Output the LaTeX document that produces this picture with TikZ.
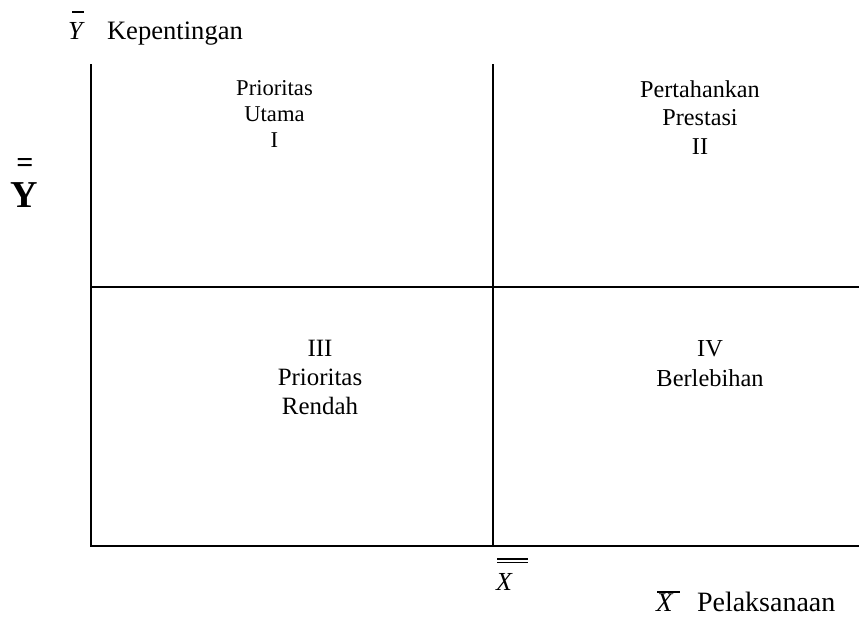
\documentclass[tikz,border=0pt]{standalone}
\usepackage{fontspec}
\setmainfont{Liberation Serif}
\newcommand{\qtext}[3]{\fontsize{#1}{#2}\selectfont\begin{tabular}[t]{@{}c@{}}#3\end{tabular}}
\tikzset{
  axisline/.style={line width=1.7pt, black},
  barline/.style={line width=1.1pt, black},
  lbl/.style={inner sep=0pt, outer sep=0pt, anchor=base},
  lblw/.style={inner sep=0pt, outer sep=0pt, anchor=base west},
}
\begin{document}
\begin{tikzpicture}[x=1pt,y=-1pt]
\useasboundingbox (0,0) rectangle (859,624);
% axes and grid
\coordinate (tl) at (91,64);
\coordinate (tm) at (493,64);
\coordinate (bl) at (91,546);
\coordinate (bm) at (493,546);
\coordinate (br) at (859,546);
\coordinate (ml) at (91,287);
\coordinate (mr) at (859,287);
\draw[axisline] (tl) -- (bl) -- (br);
\draw[axisline] (tm) -- (bm);
\draw[axisline] (ml) -- (mr);
% top-left label
\node[lblw, font=\fontsize{26}{30}\selectfont\itshape] (ybar) at (68,39) {Y};
\node[lblw, font=\fontsize{26.6}{30}\selectfont] (kep) at (107,39) {Kepentingan};
\draw[barline] (72,12) -- (84,12);
% left double-bar Y
\node[lbl, font=\fontsize{38}{40}\selectfont\bfseries] (ybb) at (24,207) {Y};
\node[lbl, font=\fontsize{30}{32}\selectfont\bfseries] (eq) at (25,172) {=};
% bottom double-bar X
\node[lblw, font=\fontsize{26}{30}\selectfont\itshape] (xbb) at (496,590) {X};
\draw[barline] (497,559) -- (528,559);
\draw[barline] (497,562.5) -- (528,562.5);
% bottom-right label
\node[lblw, font=\fontsize{27}{30}\selectfont\itshape] (xbar) at (656,611) {X};
\node[lblw, font=\fontsize{28}{30}\selectfont] (pel) at (697,611) {Pelaksanaan};
\draw[barline] (657,592) -- (680,592);
% quadrants
\node[lbl] (q1) at (274.5,95) {\qtext{22.6}{26}{Prioritas\\Utama\\I}};
\node[lbl] (q2) at (700,97) {\qtext{24.2}{28.5}{Pertahankan\\Prestasi\\II}};
\node[lbl] (q3) at (320,356) {\qtext{24.9}{29}{III\\Prioritas\\Rendah}};
\node[lbl] (q4) at (710,356) {\qtext{24.4}{30}{IV\\Berlebihan}};
\end{tikzpicture}
\end{document}
